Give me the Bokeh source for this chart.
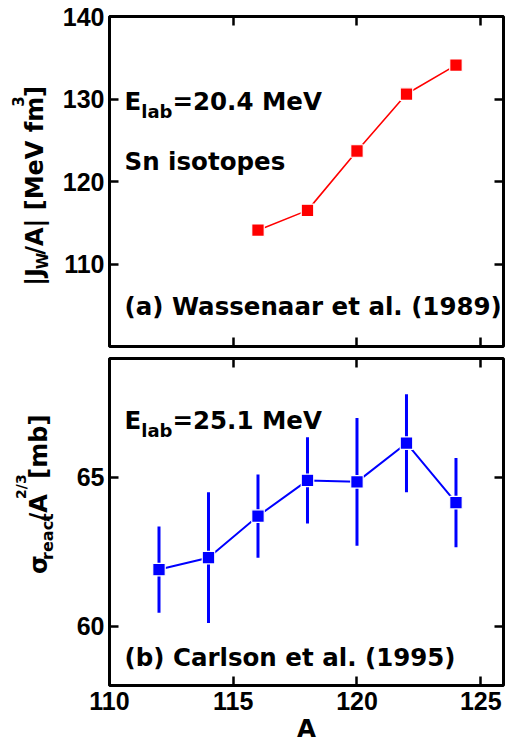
import math
from bokeh.plotting import figure
from bokeh.layouts import gridplot
from bokeh.models import Label, Range1d, FixedTicker, LinearAxis
from bokeh.embed import file_html
from bokeh.resources import INLINE

# ---------------- data ----------------
A_top = [116, 118, 120, 122, 124]
Jw_over_A = [114.1, 116.5, 123.7, 130.6, 134.1]

A_bot = [112, 114, 116, 118, 120, 122, 124]
sigma_over_A23 = [61.9, 62.3, 63.7, 64.9, 64.85, 66.15, 64.15]
sigma_err = [1.45, 2.2, 1.4, 1.45, 2.15, 1.65, 1.5]

x_ticks = [110, 115, 120, 125]
y_ticks_top = [110, 120, 130, 140]
y_ticks_bot = [60, 65]

# ---------------- layout constants ----------------
LW = 59            # width of the strip that carries the rotated y titles
W = 505 - LW
H1, H2 = 352, 397
LEFT, RIGHT = 106 - LW, 2
X_RANGE = (110, 125.92)
FB1 = 346   # frame bottom of top panel (window px)
FB2 = 685   # frame bottom of bottom panel (window px)
FL = 106    # frame left (window px)

TXT_FONT = "DejaVu Sans"
TICK_FONT = "Liberation Sans"

# approximate advance widths (em) of DejaVu Sans Bold
ADV = {' ': 0.348, '|': 0.365, 'J': 0.372, 'W': 1.024, '/': 0.365, 'A': 0.774,
       '[': 0.457, ']': 0.457, 'M': 0.995, 'e': 0.678, 'V': 0.774, 'f': 0.435,
       'm': 1.042, '3': 0.696, 'σ': 0.71, 'r': 0.493, 'a': 0.675, 'c': 0.593,
       't': 0.478, '2': 0.696, 'b': 0.716, 'E': 0.683, 'l': 0.343, '=': 0.838,
       '0': 0.696, '1': 0.696, '4': 0.696, '5': 0.696, '.': 0.380}


def tw(s, size):
    return sum(ADV.get(ch, 0.65) for ch in s) * size


def make_fig(height, yr, yticks, b_top, b_bot, xlabels):
    p = figure(width=W, height=height, x_range=Range1d(*X_RANGE), y_range=Range1d(*yr),
               output_backend="svg", toolbar_location=None,
               min_border_left=LEFT, min_border_right=RIGHT,
               min_border_top=b_top, min_border_bottom=b_bot,
               background_fill_color="white", border_fill_color="white")
    p.outline_line_color = "black"
    p.outline_line_width = 3
    p.outline_line_alpha = 1.0
    p.xgrid.visible = False
    p.ygrid.visible = False
    p.add_layout(LinearAxis(), "right")
    p.add_layout(LinearAxis(), "above")
    for ax in p.xaxis:
        ax.ticker = FixedTicker(ticks=x_ticks)
    for ax in p.yaxis:
        ax.ticker = FixedTicker(ticks=yticks)
    for ax in p.xaxis + p.yaxis:
        ax.axis_line_color = None
        ax.major_tick_in = 9
        ax.major_tick_out = 0
        ax.major_tick_line_width = 2.5
        ax.major_tick_line_color = "black"
        ax.minor_tick_line_color = None
        ax.major_label_text_color = None
        ax.major_label_text_font_size = "1px"
        ax.major_label_standoff = 0
    shown = [p.left[0]] + ([p.below[0]] if xlabels else [])
    for ax in shown:
        ax.major_label_text_color = "black"
        ax.major_label_text_font = TICK_FONT
        ax.major_label_text_font_style = "bold"
        ax.major_label_text_font_size = "25px"
    p.left[0].major_label_standoff = 5
    if xlabels:
        p.below[0].major_label_standoff = 6
    return p


def make_strip(height):
    s = figure(width=LW, height=height, x_range=Range1d(0, LW), y_range=Range1d(0, height),
               output_backend="svg", toolbar_location=None,
               x_axis_location=None, y_axis_location=None,
               min_border=0, min_border_left=0, min_border_right=0,
               min_border_top=0, min_border_bottom=0,
               background_fill_color="white", border_fill_color="white")
    s.outline_line_color = None
    s.xgrid.visible = False
    s.ygrid.visible = False
    return s


p1 = make_fig(H1, (100, 140), y_ticks_top, 16, 6, False)
p2 = make_fig(H2, (58, 69), y_ticks_bot, 6, 64, True)
s1 = make_strip(H1)
s2 = make_strip(H2)

# x-axis title
xa = p2.below[0]
xa.axis_label = "A"
xa.axis_label_text_font = TXT_FONT
xa.axis_label_text_font_style = "bold"
xa.axis_label_text_font_size = "24.5px"
xa.axis_label_text_color = "black"
xa.axis_label_standoff = 1

# ---------------- data glyphs ----------------
p1.line(A_top, Jw_over_A, line_color="#ff0000", line_width=1.6)
p1.scatter(A_top, Jw_over_A, marker="square", size=12.5, fill_color="#ff0000",
           line_color="white", line_width=1.2)

lower = [v - e for v, e in zip(sigma_over_A23, sigma_err)]
upper = [v + e for v, e in zip(sigma_over_A23, sigma_err)]
p2.segment(A_bot, lower, A_bot, upper, line_color="#0000ff", line_width=3)
p2.line(A_bot, sigma_over_A23, line_color="#0000ff", line_width=2)
p2.scatter(A_bot, sigma_over_A23, marker="square", size=12.5, fill_color="#0000ff",
           line_color="white", line_width=1.2)


# ---------------- text inside the frames ----------------
def put(p, fb, x, y, text, size, font=TXT_FONT, angle=0.0, align="left"):
    p.add_layout(Label(x=x - FL, y=fb - y, x_units="screen", y_units="screen",
                       text=text, text_font=font, text_font_style="bold",
                       text_font_size=f"{size}px", text_color="black",
                       angle=angle, text_align=align, text_baseline="alphabetic"))


def sub_text(p, fb, x, y, parts, main=24.5, small=18, drop=10):
    for txt, kind in parts:
        if kind == "main":
            put(p, fb, x, y, txt, main)
            x += tw(txt, main)
        else:
            put(p, fb, x, y + drop, txt, small)
            x += tw(txt, small)


sub_text(p1, FB1, 121, 100.5, [("E", "main"), ("lab", "sub"), ("=20.4 MeV", "main")])
put(p1, FB1, 121, 161, "Sn isotopes", 24.5)
put(p1, FB1, 121, 306, "(a) Wassenaar et al. (1989)", 24.5)

sub_text(p2, FB2, 121, 420, [("E", "main"), ("lab", "sub"), ("=25.1 MeV", "main")])
put(p2, FB2, 121, 657, "(b) Carlson et al. (1995)", 24.5)


# ---------------- rotated y titles (in the left strips) ----------------
def sput(s, top, x, y, text, size):
    # x, y in window px; strip data units are pixels measured from its bottom
    s.add_layout(Label(x=x, y=s.height - (y - top), text=text, text_font=TXT_FONT,
                       text_font_style="bold", text_font_size=f"{size}px",
                       text_color="black", angle=math.pi / 2, text_align="left",
                       text_baseline="alphabetic"))


def vlabel(s, top, center_y, base_x, parts, main=24, sub=16, sup=14, sub_dx=9, sup_dx=-18):
    size_of = {"main": main, "sub": sub, "sup": sup}
    dx_of = {"main": 0, "sub": sub_dx, "sup": sup_dx}
    total = sum(tw(t, size_of[k]) for t, k in parts)
    y = center_y + total / 2.0
    for txt, kind in parts:
        sput(s, top, base_x + dx_of[kind], y, txt, size_of[kind])
        y -= tw(txt, size_of[kind])


vlabel(s1, 0, 181, 34, [("|J", "main"), ("W", "sub"), ("/A| [MeV fm", "main"),
                        ("3", "sup"), ("]", "main")], sub=15, sup=15, sub_dx=8, sup_dx=-17)
vlabel(s2, H1, 519.5, 38, [("σ", "main"), ("react", "sub"), ("/A", "main"),
                           ("2/3", "sup"), (" [mb]", "main")])

layout = gridplot([[s1, p1], [s2, p2]], toolbar_location=None)
open("out.html", "w").write(file_html(layout, INLINE))
